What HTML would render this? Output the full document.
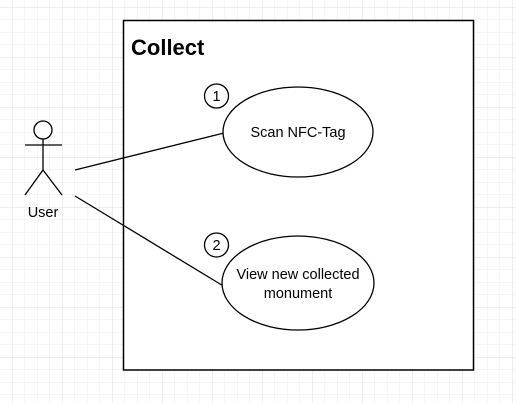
<!DOCTYPE html>
<html><head><style>
html,body{margin:0;padding:0;background:#fff;}
svg{display:block;font-family:"Liberation Sans",Arial,sans-serif;}
</style></head><body>
<svg width="516" height="403" viewBox="0 0 516 403" xmlns="http://www.w3.org/2000/svg">
<defs>
<pattern id="minor" x="12" y="7" width="12.5" height="12.5" patternUnits="userSpaceOnUse">
<path d="M0 0H12.5M0 0V12.5" stroke="#ececec" stroke-width="1" fill="none"/>
</pattern>
<pattern id="major" x="12" y="7" width="50" height="50" patternUnits="userSpaceOnUse">
<path d="M0 0H50M0 0V50" stroke="#dcdcdc" stroke-width="1" fill="none"/>
</pattern>
</defs>
<rect width="516" height="403" fill="url(#minor)"/>
<rect width="516" height="403" fill="url(#major)"/>
<rect x="123.5" y="20.5" width="350" height="349.5" fill="#fff" stroke="#000" stroke-width="1.5"/>
<text x="131" y="55" font-size="22" font-weight="bold">Collect</text>
<g stroke="#000" stroke-width="1.3" fill="none">
<circle cx="43" cy="130" r="9" fill="#fff"/>
<line x1="43" y1="139" x2="43" y2="170"/>
<line x1="25" y1="145" x2="62" y2="145"/>
<line x1="43" y1="170" x2="25" y2="195"/>
<line x1="43" y1="170" x2="62" y2="195"/>
<line x1="75" y1="170" x2="224" y2="133"/>
<line x1="75" y1="196" x2="225" y2="287"/>
<ellipse cx="298" cy="132" rx="75" ry="45" fill="#fff"/>
<ellipse cx="298" cy="283" rx="76" ry="47" fill="#fff"/>
<circle cx="216.5" cy="96" r="12" fill="#fff"/>
<circle cx="216.5" cy="245" r="12" fill="#fff"/>
</g>
<g font-size="14.5" text-anchor="middle" fill="#000">
<text x="43" y="217">User</text>
<text x="298" y="137">Scan NFC-Tag</text>
<text x="298" y="279">View new collected</text>
<text x="298" y="298">monument</text>
<text x="216.5" y="101">1</text>
<text x="216.5" y="250">2</text>
</g>
</svg>
</body></html>
